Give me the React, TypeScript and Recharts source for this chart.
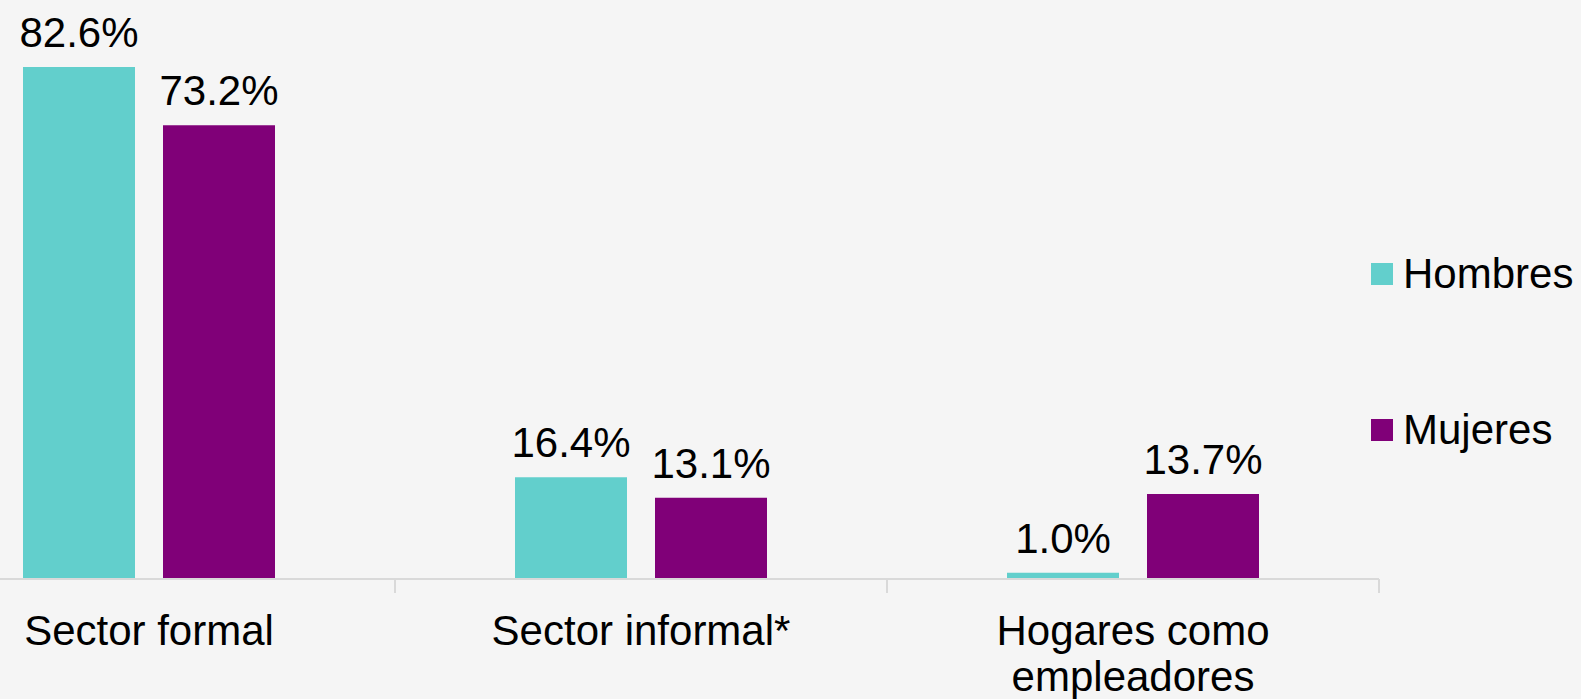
import { BarChart, Bar, XAxis, YAxis, Legend, LabelList } from 'recharts';

const categories = ['Sector formal', 'Sector informal*', 'Hogares como empleadores'];
// how each category label breaks onto lines under the axis
const tickLines: Record<string, string[]> = {
  'Sector formal': ['Sector formal'],
  'Sector informal*': ['Sector informal*'],
  'Hogares como empleadores': ['Hogares como', 'empleadores'],
};
const hombres = [82.6, 16.4, 1.0];
const mujeres = [73.2, 13.1, 13.7];

const FONT = '"Liberation Sans", Arial, Helvetica, sans-serif';
const FS = 42;

const data = categories.map((name, i) => ({
  name,
  Hombres: hombres[i],
  Mujeres: mujeres[i],
}));

// category label plus the small divider tick at the right edge of each band
function CategoryTick(props: any) {
  const { x, y, payload } = props;
  const half = payload && payload.offset ? payload.offset : 0;
  const lines = tickLines[payload.value] || [payload.value];
  return (
    <g>
      <line x1={x + half} x2={x + half} y1={y} y2={y + 14} stroke="#d9d9d9" strokeWidth={2} />
      <text
        x={x}
        y={y + 66}
        textAnchor="middle"
        fill="#000"
        style={{ fontSize: FS, fontFamily: FONT }}
      >
        {lines.map((l, i) => (
          <tspan key={l} x={x} dy={i === 0 ? 0 : 46}>
            {l}
          </tspan>
        ))}
      </text>
    </g>
  );
}

function renderLegend(props: any) {
  const items = props.payload || [];
  return (
    <div style={{ fontFamily: FONT }}>
      {items.map((entry: any, i: number) => (
        <div
          key={entry.value}
          style={{
            display: 'flex',
            alignItems: 'center',
            height: 50,
            marginBottom: i === 0 ? 106 : 0,
          }}
        >
          <span style={{ width: 22, height: 22, background: entry.color, marginRight: 10, flex: 'none' }} />
          <span style={{ fontSize: FS, color: '#000', whiteSpace: 'nowrap' }}>{entry.value}</span>
        </div>
      ))}
    </div>
  );
}

const fmt = (v: any) => `${Number(v).toFixed(1)}%`;

export default function App() {
  return (
    <div
      style={{
        position: 'fixed',
        left: 0,
        top: 0,
        width: 1581,
        height: 699,
        overflow: 'hidden',
        background: '#f5f5f5',
        fontFamily: FONT,
      }}
    >
      <div style={{ position: 'absolute', left: -97, top: 0 }}>
        <BarChart
          width={1678}
          height={699}
          data={data}
          margin={{ top: 21, right: 12, bottom: 0, left: 0 }}
          barGap={28}
          barSize={112}
        >
          <XAxis
            dataKey="name"
            height={120}
            axisLine={{ stroke: '#d9d9d9', strokeWidth: 2 }}
            tickLine={false}
            tickSize={0}
            tickMargin={0}
            interval={0}
            tick={<CategoryTick />}
          />
          <YAxis hide domain={[0, 90]} />
          <Legend
            layout="vertical"
            align="right"
            verticalAlign="top"
            width={190}
            wrapperStyle={{ left: 1468, right: 'auto', top: 249 }}
            content={renderLegend}
          />
          <Bar dataKey="Hombres" fill="#62cfcc" isAnimationActive={false}>
            <LabelList
              dataKey="Hombres"
              position="top"
              offset={20}
              formatter={fmt}
              style={{ fontSize: FS, fontFamily: FONT, fill: '#000' }}
            />
          </Bar>
          <Bar dataKey="Mujeres" fill="#800078" isAnimationActive={false}>
            <LabelList
              dataKey="Mujeres"
              position="top"
              offset={20}
              formatter={fmt}
              style={{ fontSize: FS, fontFamily: FONT, fill: '#000' }}
            />
          </Bar>
        </BarChart>
      </div>
    </div>
  );
}
